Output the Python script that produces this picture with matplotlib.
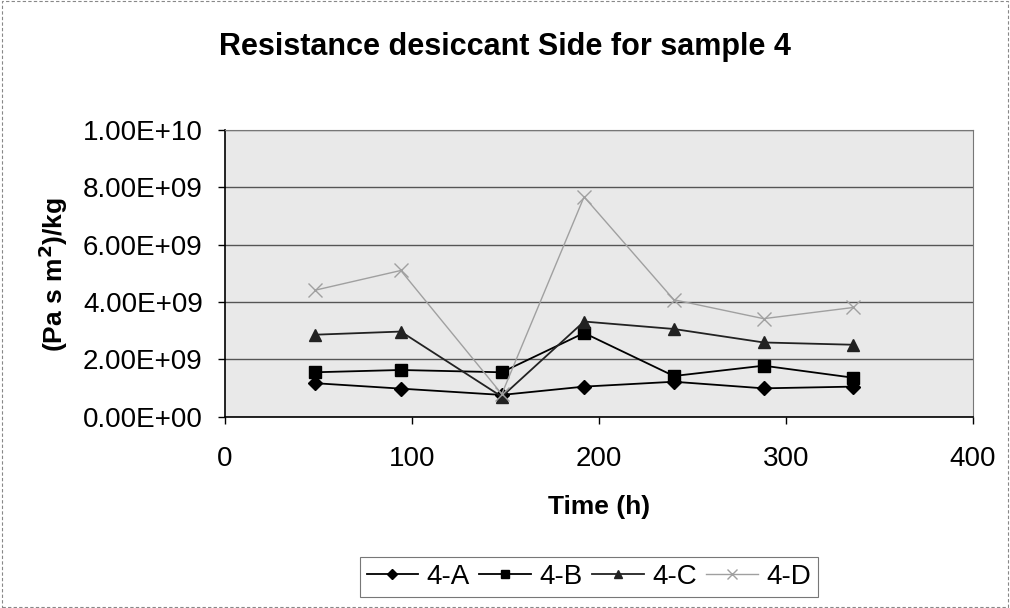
import numpy as np
import matplotlib.pyplot as plt
from matplotlib.patches import Rectangle

# data
time_h = [48, 94, 148, 192, 240, 288, 336]
res_4a = [1.17e9, 0.98e9, 0.76e9, 1.05e9, 1.22e9, 0.99e9, 1.05e9]
res_4b = [1.55e9, 1.63e9, 1.55e9, 2.92e9, 1.42e9, 1.78e9, 1.36e9]
res_4c = [2.86e9, 2.97e9, 0.70e9, 3.32e9, 3.06e9, 2.59e9, 2.51e9]
res_4d = [4.41e9, 5.10e9, 0.79e9, 7.67e9, 4.08e9, 3.42e9, 3.81e9]
y_ticks = [0, 2e9, 4e9, 6e9, 8e9, 1e10]
y_tick_labels = ['0.00E+00', '2.00E+09', '4.00E+09', '6.00E+09', '8.00E+09', '1.00E+10']

plt.rcParams['font.family'] = ['Liberation Sans', 'DejaVu Sans']

fig = plt.figure(figsize=(10.1, 6.08), dpi=100)
# thin frame round the whole chart
fig.patches.append(Rectangle((0.002, 0.002), 0.996, 0.996, transform=fig.transFigure,
                             fill=False, edgecolor='#888888', lw=0.8, ls=(0, (3, 2))))

ax = fig.add_axes([0.2228, 0.3146, 0.7406, 0.4716])
ax.set_facecolor('#e9e9e9')

ax.plot(time_h, res_4a, color='black', lw=1.3, marker='D', ms=7, label='4-A')
ax.plot(time_h, res_4b, color='black', lw=1.3, marker='s', ms=9, label='4-B')
ax.plot(time_h, res_4c, color='#222222', lw=1.3, marker='^', ms=9, label='4-C')
ax.plot(time_h, res_4d, color='#a0a0a0', lw=1.0, marker='x', ms=10, mew=1.0, label='4-D')

ax.set_xlim(0, 400)
ax.set_ylim(0, 1e10)
ax.set_xticks([0, 100, 200, 300, 400])
ax.set_yticks(y_ticks)
ax.set_yticklabels(y_tick_labels)
ax.tick_params(labelsize=20, length=5, width=1, direction='out')
ax.tick_params(axis='x', pad=16)
ax.tick_params(axis='y', pad=11)
ax.grid(axis='y', color='#555555', lw=1.0)
ax.set_axisbelow(True)
for side in ['top', 'right']:
    ax.spines[side].set_color('#777777')
    ax.spines[side].set_linestyle((0, (2, 1)))
ax.spines['left'].set_linewidth(1.2)
ax.spines['bottom'].set_linewidth(1.2)

fig.text(0.593, 1 - 507 / 608, 'Time (h)', ha='center', va='center',
         fontsize=19, fontweight='bold')
fig.text(53 / 1010, 1 - 275 / 608, '(Pa s m$^\\mathbf{2}$)/kg', ha='center', va='center',
         rotation=90, fontsize=19, fontweight='bold')
fig.text(0.5, 1 - 55 / 608, 'Resistance desiccant Side for sample 4', ha='center',
         va='baseline', fontsize=22, fontweight='bold')

leg = fig.legend(loc='center', bbox_to_anchor=(0.583, 0.051), ncol=4, fontsize=20,
                 frameon=True, fancybox=False, edgecolor='#555555', handlelength=1.85,
                 handletextpad=0.3, columnspacing=0.35, markerscale=0.7, borderpad=0.25)
leg.get_frame().set_linewidth(0.8)

plt.savefig('out.png', dpi=100)
